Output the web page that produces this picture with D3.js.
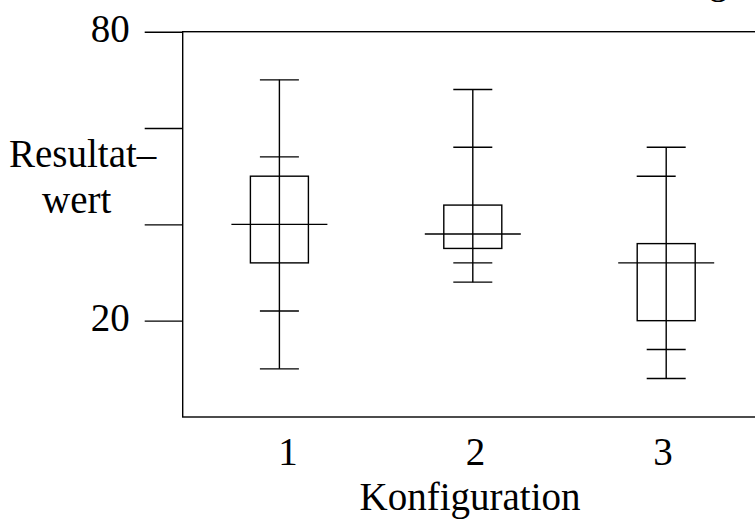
<!DOCTYPE html>
<html>
<head>
<meta charset="utf-8">
<script src="https://cdn.jsdelivr.net/npm/d3@7/dist/d3.min.js"></script>
<style>
	body { margin: 0; background: #fff; }
	svg { display: block; }
	text { font-family: "Liberation Serif", "Times New Roman", serif; fill: #000; }
</style>
</head>
<body>
<div id="chart"></div>
<script>
// Konfigurationen und Kennwerte je Box
var categories = ['1', '2', '3'];
var lowWhisker = [10, 28, 8];
var lowInner = [22, 32, 14];
var q1 = [32, 35, 20];
var median = [40, 38, 32];
var q3 = [50, 44, 36];
var highInner = [54, 56, 50];
var highWhisker = [70, 68, 56];

var yTicks = [20, 40, 60, 80];
var yTickLabels = ['20', '', '', '80'];

var width = 755, height = 519;
var fontSize = 39;
var stroke = 1.4;

var svg = d3.select('#chart').append('svg')
	.attr('width', width)
	.attr('height', height);

var x = d3.scalePoint()
	.domain(categories)
	.range([182.7, 762.9])
	.padding(0.5);

var xLabel = d3.scalePoint()
	.domain(categories)
	.range([288, 663]);

var y = d3.scaleLinear()
	.domain([0, 80])
	.range([417, 31.7]);

/*
 * frame
 */
svg.append('rect')
	.attr('x', x.range()[0])
	.attr('y', y(80))
	.attr('width', x.range()[1] - x.range()[0])
	.attr('height', y(0) - y(80))
	.attr('fill', 'none')
	.attr('stroke', '#000')
	.attr('stroke-width', stroke);

// title, only the descender is left inside the picture
svg.append('text')
	.attr('x', 728)
	.attr('y', -7)
	.attr('text-anchor', 'end')
	.style('font-size', fontSize + 'px')
	.text('Auswertung');

/*
 * y axis
 */
var yAxis = d3.axisLeft(y)
	.tickValues(yTicks)
	.tickSize(38)
	.tickPadding(15)
	.tickFormat(function(d, i) { return yTickLabels[i]; });

var gy = svg.append('g')
	.attr('transform', 'translate(' + x.range()[0] + ',0)')
	.call(yAxis);

gy.select('.domain').remove();
gy.selectAll('.tick line').attr('stroke', '#000').attr('stroke-width', stroke);
gy.selectAll('.tick text')
	.attr('font-family', null)
	.attr('font-size', null)
	.style('font-size', fontSize + 'px')
	.attr('dy', '0.25em');

svg.append('text')
	.attr('x', 9)
	.attr('y', 166.7)
	.style('font-size', fontSize + 'px')
	.text('Resultat\u2013');

svg.append('text')
	.attr('x', 42)
	.attr('y', 213.3)
	.style('font-size', fontSize + 'px')
	.text('wert');

/*
 * x axis labels
 */
svg.selectAll('.xlabel')
	.data(categories)
	.enter()
		.append('text')
			.attr('class', 'xlabel')
			.attr('x', function(d) { return xLabel(d); })
			.attr('y', 465)
			.attr('text-anchor', 'middle')
			.style('font-size', fontSize + 'px')
			.text(function(d) { return d; });

svg.append('text')
	.attr('x', 470)
	.attr('y', 510)
	.attr('text-anchor', 'middle')
	.style('font-size', fontSize + 'px')
	.text('Konfiguration');

/*
 * boxes
 */
var boxWidth = 58, capWidth = 39, medianWidth = 96;

var boxes = categories.map(function(c, i) {
	return {
		'c': c,
		'lo': lowWhisker[i], 'loIn': lowInner[i],
		'q1': q1[i], 'med': median[i], 'q3': q3[i],
		'hiIn': highInner[i], 'hi': highWhisker[i]
	};
});

var g = svg.selectAll('.box')
	.data(boxes)
	.enter()
		.append('g')
			.attr('class', 'box')
			.attr('stroke', '#000')
			.attr('stroke-width', stroke)
			.attr('fill', 'none');

g.append('line')
	.attr('x1', function(d) { return x(d.c); })
	.attr('x2', function(d) { return x(d.c); })
	.attr('y1', function(d) { return y(d.lo); })
	.attr('y2', function(d) { return y(d.hi); });

g.append('rect')
	.attr('x', function(d) { return x(d.c) - boxWidth / 2; })
	.attr('y', function(d) { return y(d.q3); })
	.attr('width', boxWidth)
	.attr('height', function(d) { return y(d.q1) - y(d.q3); });

g.append('line')
	.attr('x1', function(d) { return x(d.c) - medianWidth / 2; })
	.attr('x2', function(d) { return x(d.c) + medianWidth / 2; })
	.attr('y1', function(d) { return y(d.med); })
	.attr('y2', function(d) { return y(d.med); });

['lo', 'loIn', 'hiIn', 'hi'].forEach(function(k) {
	g.append('line')
		.attr('x1', function(d, i) { return x(d.c) - capWidth / 2 + shift(i, k); })
		.attr('x2', function(d, i) { return x(d.c) + capWidth / 2 + shift(i, k); })
		.attr('y1', function(d) { return y(d[k]); })
		.attr('y2', function(d) { return y(d[k]); });
});

// the inner upper cap of box 3 sits a bit left in the original
function shift(i, k) {
	return (i == 2 && k == 'hiIn') ? -10 : 0;
}
</script>
</body>
</html>
